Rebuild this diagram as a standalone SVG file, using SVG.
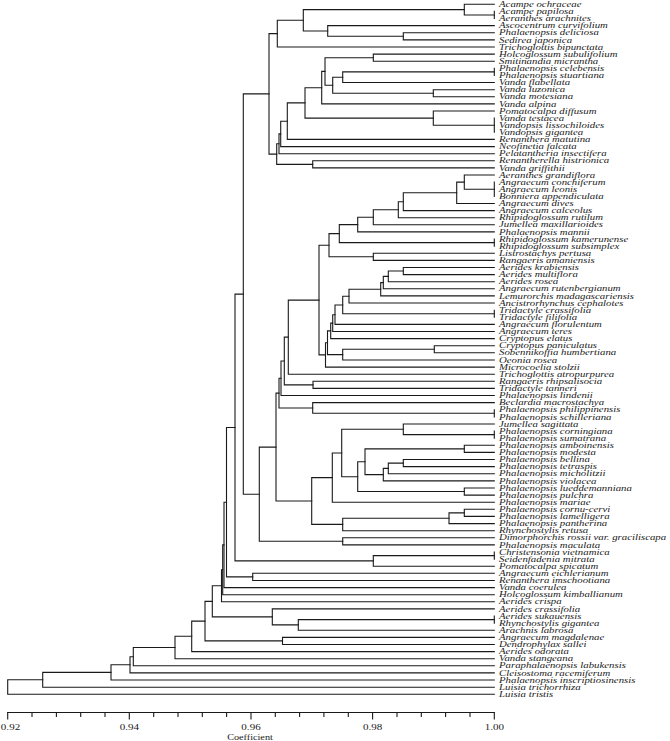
<svg xmlns="http://www.w3.org/2000/svg" width="670" height="741" viewBox="0 0 670 741">
<style>
.t{fill:none;stroke:#1a1a1a;stroke-width:1.1;stroke-linejoin:miter;stroke-linecap:square}
.lbl{font-family:"Liberation Serif","Times New Roman",serif;font-style:italic;font-size:8px;fill:#1a1a1a}
.ax{font-family:"Liberation Serif","Times New Roman",serif;font-size:8.5px;fill:#1a1a1a}
</style>
<rect width="670" height="741" fill="#fff"/>
<g id="connectors" class="t">
<path d="M494.3 11.4V18.5"/>
<path d="M494.3 4.3H464.3V15H494.3"/>
<path d="M494.3 32.8H403.3V39.9H494.3"/>
<path d="M494.3 25.6H327.7V36.3H403.3"/>
<path d="M464.3 9.6H303.3V31H327.7"/>
<path d="M303.3 20.3H277.3V47H494.3"/>
<path d="M494.3 54.1H373.3V61.2H494.3"/>
<path d="M494.3 68.3V75.4"/>
<path d="M494.3 71.9H342.7V82.5H494.3"/>
<path d="M494.3 89.7H433.3V96.8H494.3"/>
<path d="M342.7 77.2H332.7V93.2H433.3"/>
<path d="M373.3 57.7H325V85.2H332.7"/>
<path d="M325 71.4H321.7V103.9H494.3"/>
<path d="M494.3 118.1V132.3"/>
<path d="M494.3 111H433.3V125.2H494.3"/>
<path d="M321.7 87.7H305V118.1H433.3"/>
<path d="M305 102.9H287.3V139.4H494.3"/>
<path d="M287.3 121.2H280.7V146.6H494.3"/>
<path d="M280.7 133.9H279V153.7H494.3"/>
<path d="M494.3 160.8H312.7V167.9H494.3"/>
<path d="M279 143.8H276.7V164.4H312.7"/>
<path d="M277.3 33.6H269V154.1H276.7"/>
<path d="M494.3 182.1V196.4"/>
<path d="M494.3 175H464.3V189.2H494.3"/>
<path d="M464.3 182.1H456.7V203.5H494.3"/>
<path d="M456.7 192.8H403.3V210.6H494.3"/>
<path d="M403.3 201.7H398.3V217.7H494.3"/>
<path d="M398.3 209.7H373.3V224.8H494.3"/>
<path d="M373.3 217.3H357.7V231.9H494.3"/>
<path d="M494.3 239V246.1"/>
<path d="M357.7 224.6H339.3V242.6H494.3"/>
<path d="M494.3 253.3H373.3V260.4H494.3"/>
<path d="M339.3 233.6H329V256.8H373.3"/>
<path d="M494.3 267.5H403.3V274.6H494.3"/>
<path d="M403.3 271H388.3V281.7H494.3"/>
<path d="M388.3 276.4H383.3V288.8H494.3"/>
<path d="M383.3 282.6H380.7V295.9H494.3"/>
<path d="M380.7 289.3H349V303H494.3"/>
<path d="M494.3 310.2V317.3"/>
<path d="M349 296.2H342.7V313.7H494.3"/>
<path d="M342.7 305H335V324.4H494.3"/>
<path d="M335 314.7H332.7V331.5H494.3"/>
<path d="M332.7 323.1H330.7V338.6H494.3"/>
<path d="M494.3 345.7H434.3V352.8H494.3"/>
<path d="M434.3 349.3H342.7V360H494.3"/>
<path d="M330.7 330.9H327.5V354.6H342.7"/>
<path d="M327.5 342.7H325.5V367.1H494.3"/>
<path d="M329 245.2H319V354.9H325.5"/>
<path d="M319 300.1H288.3V374.2H494.3"/>
<path d="M494.3 381.3H313V388.4H494.3"/>
<path d="M288.3 337.1H284.3V384.9H313"/>
<path d="M284.3 361H281V395.5H494.3"/>
<path d="M494.3 409.7V416.9"/>
<path d="M494.3 402.6H312.7V413.3H494.3"/>
<path d="M281 378.3H279V408H312.7"/>
<path d="M494.3 431.1V438.2"/>
<path d="M494.3 424H403.3V434.6H494.3"/>
<path d="M494.3 445.3H464.3V452.4H494.3"/>
<path d="M494.3 459.5H403.3V466.6H494.3"/>
<path d="M403.3 463.1H388.3V473.8H494.3"/>
<path d="M388.3 468.4H383.3V480.9H494.3"/>
<path d="M464.3 448.9H365V474.6H383.3"/>
<path d="M494.3 488H464.3V495.1H494.3"/>
<path d="M365 461.8H357.7V491.5H464.3"/>
<path d="M403.3 429.3H341.7V476.7H357.7"/>
<path d="M341.7 453H332.3V502.2H494.3"/>
<path d="M494.3 509.3H464.3V516.4H494.3"/>
<path d="M464.3 512.9H449V523.6H494.3"/>
<path d="M449 518.2H342.7V530.7H494.3"/>
<path d="M332.3 477.6H311.7V524.4H342.7"/>
<path d="M279 393.1H276V501H311.7"/>
<path d="M494.3 537.8H342.7V544.9H494.3"/>
<path d="M276 447.1H259.3V541.3H342.7"/>
<path d="M269 93.9H243.3V494.2H259.3"/>
<path d="M494.3 552V559.1"/>
<path d="M494.3 555.6H373.3V566.2H494.3"/>
<path d="M243.3 294.1H235V560.9H373.3"/>
<path d="M494.3 573.3H252.7V580.5H494.3"/>
<path d="M235 427.5H226.5V576.9H252.7"/>
<path d="M226.5 502.2H224V587.6H494.3"/>
<path d="M224 544.9H222.7V594.7H494.3"/>
<path d="M222.7 569.8H221.5V601.8H494.3"/>
<path d="M494.3 616V623.1"/>
<path d="M494.3 619.6H298.3V630.2H494.3"/>
<path d="M494.3 608.9H272.3V624.9H298.3"/>
<path d="M221.5 585.8H212.3V616.9H272.3"/>
<path d="M494.3 637.4H282.5V644.5H494.3"/>
<path d="M212.3 601.4H205V640.9H282.5"/>
<path d="M205 621.1H191.7V651.6H494.3"/>
<path d="M191.7 636.3H175V658.7H494.3"/>
<path d="M175 647.5H133.3V665.8H494.3"/>
<path d="M133.3 656.7H130V672.9H494.3"/>
<path d="M130 664.8H111V680H494.3"/>
<path d="M111 672.4H42.7V687.2H494.3"/>
<path d="M42.7 679.8H7.7V694.3H494.3"/>
</g>
<g id="axis" class="t">
<path d="M7.7 712.5H494.3"/>
<path d="M7.7 712.5V719M129.3 712.5V719M251 712.5V719M372.6 712.5V719M494.3 712.5V719"/>
<path d="M32 712.5V716.5M56.4 712.5V716.5M80.7 712.5V716.5M105 712.5V716.5M153.7 712.5V716.5M178 712.5V716.5M202.3 712.5V716.5M226.6 712.5V716.5M275.3 712.5V716.5M299.6 712.5V716.5M323.9 712.5V716.5M348.3 712.5V716.5M397 712.5V716.5M421.3 712.5V716.5M445.6 712.5V716.5M470 712.5V716.5"/>
</g>
<g id="axis-labels" class="ax" text-anchor="middle">
<text transform="translate(10.5 729.5) scale(1.3 1)">0.92</text>
<text transform="translate(129.3 729.5) scale(1.3 1)">0.94</text>
<text transform="translate(251 729.5) scale(1.3 1)">0.96</text>
<text transform="translate(372.6 729.5) scale(1.3 1)">0.98</text>
<text transform="translate(494.3 729.5) scale(1.3 1)">1.00</text>
<text transform="translate(250 739.5) scale(1.2 1)">Coefficient</text>
</g>
<g id="leaves" class="lbl" transform="translate(499 0) scale(1.35 1)">
<g id="n1"><text y="7">Acampe ochraceae</text></g>
<g id="n2"><text y="14.1">Acampe papilosa</text></g>
<g id="n3"><text y="21.2">Aeranthes arachnites</text></g>
<g id="n4"><text y="28.3">Ascocentrum curvifolium</text></g>
<g id="n5"><text y="35.5">Phalaenopsis deliciosa</text></g>
<g id="n6"><text y="42.6">Sedirea japonica</text></g>
<g id="n7"><text y="49.7">Trichoglottis bipunctata</text></g>
<g id="n8"><text y="56.8">Holcoglossum subulifolium</text></g>
<g id="n9"><text y="63.9">Smitinandia micrantha</text></g>
<g id="n10"><text y="71">Phalaenopsis celebensis</text></g>
<g id="n11"><text y="78.1">Phalaenopsis stuartiana</text></g>
<g id="n12"><text y="85.2">Vanda flabellata</text></g>
<g id="n13"><text y="92.4">Vanda luzonica</text></g>
<g id="n14"><text y="99.5">Vanda motesiana</text></g>
<g id="n15"><text y="106.6">Vanda alpina</text></g>
<g id="n16"><text y="113.7">Pomatocalpa diffusum</text></g>
<g id="n17"><text y="120.8">Vanda testacea</text></g>
<g id="n18"><text y="127.9">Vandopsis lissochiloides</text></g>
<g id="n19"><text y="135">Vandopsis gigantea</text></g>
<g id="n20"><text y="142.2">Renanthera matutina</text></g>
<g id="n21"><text y="149.3">Neofinetia falcata</text></g>
<g id="n22"><text y="156.4">Pelatantheria insectifera</text></g>
<g id="n23"><text y="163.5">Renantherella histrionica</text></g>
<g id="n24"><text y="170.6">Vanda griffithii</text></g>
<g id="n25"><text y="177.7">Aeranthes grandiflora</text></g>
<g id="n26"><text y="184.8">Angraecum conchiferum</text></g>
<g id="n27"><text y="191.9">Angraecum leonis</text></g>
<g id="n28"><text y="199.1">Bonniera appendiculata</text></g>
<g id="n29"><text y="206.2">Angraecum dives</text></g>
<g id="n30"><text y="213.3">Angraecum calceolus</text></g>
<g id="n31"><text y="220.4">Rhipidoglossum rutilum</text></g>
<g id="n32"><text y="227.5">Jumellea maxillarioides</text></g>
<g id="n33"><text y="234.6">Phalaenopsis mannii</text></g>
<g id="n34"><text y="241.7">Rhipidoglossum kamerunense</text></g>
<g id="n35"><text y="248.8">Rhipidoglossum subsimplex</text></g>
<g id="n36"><text y="256">Listrostachys pertusa</text></g>
<g id="n37"><text y="263.1">Rangaeris amaniensis</text></g>
<g id="n38"><text y="270.2">Aerides krabiensis</text></g>
<g id="n39"><text y="277.3">Aerides multiflora</text></g>
<g id="n40"><text y="284.4">Aerides rosea</text></g>
<g id="n41"><text y="291.5">Angraecum rutenbergianum</text></g>
<g id="n42"><text y="298.6">Lemurorchis madagascariensis</text></g>
<g id="n43"><text y="305.8">Ancistrorhynchus cephalotes</text></g>
<g id="n44"><text y="312.9">Tridactyle crassifolia</text></g>
<g id="n45"><text y="320">Tridactyle filifolia</text></g>
<g id="n46"><text y="327.1">Angraecum florulentum</text></g>
<g id="n47"><text y="334.2">Angraecum teres</text></g>
<g id="n48"><text y="341.3">Cryptopus elatus</text></g>
<g id="n49"><text y="348.4">Cryptopus paniculatus</text></g>
<g id="n50"><text y="355.5">Sobennikoffia humbertiana</text></g>
<g id="n51"><text y="362.7">Oeonia rosea</text></g>
<g id="n52"><text y="369.8">Microcoelia stolzii</text></g>
<g id="n53"><text y="376.9">Trichoglottis atropurpurea</text></g>
<g id="n54"><text y="384">Rangaeris rhipsalisocia</text></g>
<g id="n55"><text y="391.1">Tridactyle tanneri</text></g>
<g id="n56"><text y="398.2">Phalaenopsis lindenii</text></g>
<g id="n57"><text y="405.3">Beclardia macrostachya</text></g>
<g id="n58"><text y="412.4">Phalaenopsis philippinensis</text></g>
<g id="n59"><text y="419.6">Phalaenopsis schilleriana</text></g>
<g id="n60"><text y="426.7">Jumellea sagittata</text></g>
<g id="n61"><text y="433.8">Phalaenopsis corningiana</text></g>
<g id="n62"><text y="440.9">Phalaenopsis sumatrana</text></g>
<g id="n63"><text y="448">Phalaenopsis amboinensis</text></g>
<g id="n64"><text y="455.1">Phalaenopsis modesta</text></g>
<g id="n65"><text y="462.2">Phalaenopsis bellina</text></g>
<g id="n66"><text y="469.4">Phalaenopsis tetraspis</text></g>
<g id="n67"><text y="476.5">Phalaenopsis micholitzii</text></g>
<g id="n68"><text y="483.6">Phalaenopsis violacea</text></g>
<g id="n69"><text y="490.7">Phalaenopsis lueddemanniana</text></g>
<g id="n70"><text y="497.8">Phalaenopsis pulchra</text></g>
<g id="n71"><text y="504.9">Phalaenopsis mariae</text></g>
<g id="n72"><text y="512">Phalaenopsis cornu-cervi</text></g>
<g id="n73"><text y="519.1">Phalaenopsis lamelligera</text></g>
<g id="n74"><text y="526.3">Phalaenopsis pantherina</text></g>
<g id="n75"><text y="533.4">Rhynchostylis retusa</text></g>
<g id="n76"><text y="540.5">Dimorphorchis rossii var. graciliscapa</text></g>
<g id="n77"><text y="547.6">Phalaenopsis maculata</text></g>
<g id="n78"><text y="554.7">Christensonia vietnamica</text></g>
<g id="n79"><text y="561.8">Seidenfadenia mitrata</text></g>
<g id="n80"><text y="568.9">Pomatocalpa spicatum</text></g>
<g id="n81"><text y="576">Angraecum eichlerianum</text></g>
<g id="n82"><text y="583.2">Renanthera imschootiana</text></g>
<g id="n83"><text y="590.3">Vanda coerulea</text></g>
<g id="n84"><text y="597.4">Holcoglossum kimballianum</text></g>
<g id="n85"><text y="604.5">Aerides crispa</text></g>
<g id="n86"><text y="611.6">Aerides crassifolia</text></g>
<g id="n87"><text y="618.7">Aerides sukauensis</text></g>
<g id="n88"><text y="625.8">Rhynchostylis gigantea</text></g>
<g id="n89"><text y="632.9">Arachnis labrosa</text></g>
<g id="n90"><text y="640.1">Angraecum magdalenae</text></g>
<g id="n91"><text y="647.2">Dendrophylax sallei</text></g>
<g id="n92"><text y="654.3">Aerides odorata</text></g>
<g id="n93"><text y="661.4">Vanda stangeana</text></g>
<g id="n94"><text y="668.5">Paraphalaenopsis labukensis</text></g>
<g id="n95"><text y="675.6">Cleisostoma racemiferum</text></g>
<g id="n96"><text y="682.7">Phalaenopsis inscriptiosinensis</text></g>
<g id="n97"><text y="689.9">Luisia trichorrhiza</text></g>
<g id="n98"><text y="697">Luisia tristis</text></g>
</g>
</svg>
